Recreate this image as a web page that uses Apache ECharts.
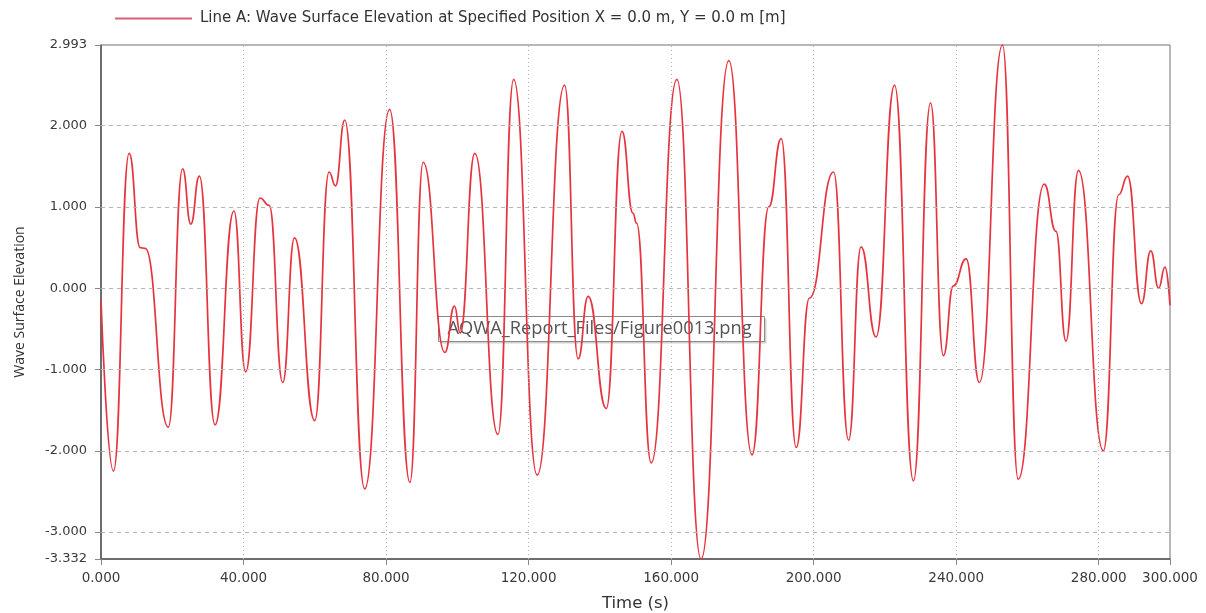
<!DOCTYPE html>
<html>
<head>
<meta charset="utf-8">
<script src="https://cdn.jsdelivr.net/npm/echarts@6/dist/echarts.min.js"></script>
<style>
html,body{margin:0;padding:0;background:#fff;}
#chart{width:1206px;height:613px;}
</style>
</head>
<body>
<div id="chart"></div>
<script>
// Time (s) of the read-off turning points / shoulders
const times = [0, 3.5, 7.9, 11.0, 12.4, 18.9, 22.9, 25.2, 27.6, 32.0, 37.3, 40.6, 44.6, 47.2, 51.0, 54.3, 60.0, 64.0, 65.8, 68.4, 74.0, 81.0, 86.7, 90.4, 96.5, 99.2, 100.8, 104.9, 111.4, 115.8, 122.4, 130.1, 133.9, 136.7, 141.8, 146.2, 149.3, 150.3, 154.4, 161.6, 168.4, 176.2, 182.7, 187.4, 190.9, 195.1, 198.8, 205.6, 209.8, 213.3, 217.5, 222.7, 228.0, 232.8, 236.4, 239.2, 242.8, 246.5, 253.0, 257.4, 264.7, 268.0, 270.8, 274.3, 281.3, 285.6, 288.1, 292.0, 294.6, 296.8, 298.6, 300];
// Wave surface elevation (m)
const elevations = [-0.15, -2.25, 1.66, 0.50, 0.49, -1.71, 1.47, 0.79, 1.38, -1.68, 0.95, -1.03, 1.11, 1.02, -1.16, 0.62, -1.63, 1.43, 1.26, 2.07, -2.47, 2.20, -2.39, 1.55, -0.79, -0.22, -0.55, 1.66, -1.80, 2.57, -2.30, 2.50, -0.87, -0.10, -1.48, 1.93, 0.92, 0.80, -2.15, 2.57, -3.332, 2.80, -2.05, 1.00, 1.84, -1.96, -0.12, 1.43, -1.87, 0.51, -0.60, 2.50, -2.37, 2.28, -0.83, 0.03, 0.36, -1.16, 2.993, -2.35, 1.28, 0.70, -0.65, 1.45, -2.00, 1.15, 1.38, -0.19, 0.46, 0.00, 0.26, -0.21];
const xTicks = [0, 40, 80, 120, 160, 200, 240, 280, 300];
const xGrid = [40, 80, 120, 160, 200, 240, 280];
const yTicks = [-3.332, -3, -2, -1, 0, 1, 2, 2.993];
const yGrid = [-3, -2, -1, 0, 1, 2];
const seriesName = 'Line A: Wave Surface Elevation at Specified Position X = 0.0 m, Y = 0.0 m [m]';
const xName = 'Time (s)';
const yName = 'Wave Surface Elevation';
const noteText = 'AQWA_Report_Files/Figure0013.png';

const data = times.map((t, i) => [t, elevations[i]]);
const FONT = '"Open Sans", "Noto Sans", sans-serif';
const WIDE = '"DejaVu Sans", "Open Sans", sans-serif';

const gridLines = yGrid.map(v => ({ yAxis: v, lineStyle: { type: [4, 4], color: '#b4b4b4', width: 1 } }))
  .concat(xGrid.map(v => ({ xAxis: v, lineStyle: { type: [1, 3], color: '#b0b0b0', width: 1 } })));

const chart = echarts.init(document.getElementById('chart'), null, { renderer: 'canvas' });
chart.setOption({
  animation: false,
  backgroundColor: '#ffffff',
  textStyle: { fontFamily: FONT },
  legend: {
    data: [seriesName],
    left: 110,
    top: 6,
    icon: 'rect',
    itemWidth: 77,
    itemHeight: 2,
    itemStyle: { color: '#d8607a' },
    textStyle: { fontSize: 15, color: '#333', fontFamily: WIDE, padding: [0, 0, 0, 3] }
  },
  grid: {
    left: 101, right: 36, top: 45, bottom: 54,
    outerBoundsMode: 'none', containLabel: false,
    show: true, borderColor: '#707070', borderWidth: 1
  },
  xAxis: {
    type: 'value', min: 0, max: 300,
    name: xName, nameLocation: 'middle', nameGap: 36,
    nameTextStyle: { fontSize: 16.5, color: '#333', fontFamily: WIDE },
    axisLine: { show: true, onZero: false, lineStyle: { color: '#555', width: 1.5 } },
    axisTick: { show: true, length: 6, customValues: xTicks, lineStyle: { color: '#888' } },
    axisLabel: { customValues: xTicks, formatter: v => v.toFixed(3), fontSize: 13.5, color: '#3a3a3a', margin: 12, fontFamily: WIDE },
    splitLine: { show: false }
  },
  yAxis: {
    type: 'value', min: -3.332, max: 2.993,
    name: yName, nameLocation: 'middle', nameGap: 74,
    nameTextStyle: { fontSize: 14, color: '#333', fontFamily: FONT },
    axisLine: { show: true, onZero: false, lineStyle: { color: '#555', width: 1.5 } },
    axisTick: { show: true, length: 6, customValues: yTicks, lineStyle: { color: '#888' } },
    axisLabel: { customValues: yTicks, formatter: v => v.toFixed(3), fontSize: 13, color: '#3a3a3a', margin: 14, fontFamily: WIDE },
    splitLine: { show: false }
  },
  series: [
    {
      name: '__grid', type: 'line', data: [], z: 1, silent: true,
      markLine: { silent: true, symbol: ['none', 'none'], label: { show: false }, animation: false, data: gridLines }
    },
    {
      name: seriesName, type: 'line', data: data, z: 3,
      showSymbol: false, symbol: 'none',
      smooth: 0.5, smoothMonotone: 'x',
      lineStyle: { color: '#e6343e', width: 1.7 },
      itemStyle: { color: '#e6343e' }
    }
  ],
  graphic: [{
    type: 'group', left: 438, top: 316, z: 100,
    children: [
      { type: 'rect', shape: { x: 2, y: 2, width: 326, height: 25 }, style: { fill: 'rgba(0,0,0,0.18)' } },
      { type: 'rect', shape: { x: 0, y: 0, width: 326, height: 25 }, style: { fill: '#ffffff', stroke: '#8a8a8a', lineWidth: 1 } },
      { type: 'text', x: 9, y: 12.5, style: { text: noteText, fontSize: 18.3, fill: '#555', fontFamily: FONT, verticalAlign: 'middle' } }
    ]
  }]
});
</script>
</body>
</html>
